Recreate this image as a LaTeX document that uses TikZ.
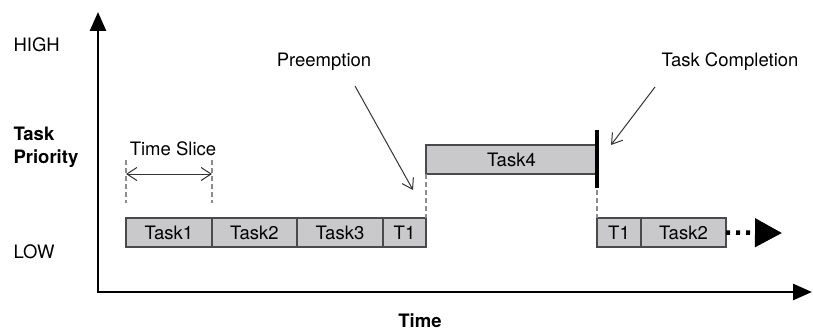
\documentclass[tikz,border=0pt]{standalone}
\usepackage{fontspec}
\setmainfont{TeX Gyre Heros}
\usetikzlibrary{arrows.meta, positioning}
\definecolor{taskgray}{HTML}{C9C9CC}
\definecolor{edgegray}{HTML}{4A4A4A}

\begin{document}
\begin{tikzpicture}[x=1pt, y=-1pt,
  font=\fontsize{18.5}{23}\selectfont,
  taskbox/.style={rectangle, draw=edgegray, line width=1.4pt, fill=taskgray, minimum height=29pt, inner sep=0pt, outer sep=0pt},
  axis/.style={line width=2.6pt, {Triangle[length=19pt, width=16pt]}-{Triangle[length=19pt, width=16pt]}},
  pointer/.style={line width=1pt, draw=black!80, -{Straight Barb[length=10pt, width=13pt]}},
  guide/.style={line width=1.2pt, draw=black!45, dash pattern=on 5pt off 3pt}]

\useasboundingbox (0,0) rectangle (813,334);

% axes
\coordinate (ytop) at (98,12);
\coordinate (origin) at (98,292);
\coordinate (xend) at (812,292);
\draw[axis] (ytop) -- (origin) -- (xend);

\node[anchor=west] (high) at (10,45) {HIGH};
\node[anchor=west, align=left, font=\fontsize{18.5}{23}\selectfont\bfseries] (prio) at (10,147) {Task\\Priority};
\node[anchor=west] (low) at (10,252) {LOW};
\node[font=\fontsize{18.5}{23}\selectfont\bfseries] (time) at (420,321) {Time};

% low priority row
\node[taskbox, minimum width=86pt, anchor=north west] (task1) at (126,218) {Task1};
\node[taskbox, minimum width=85pt, right=0pt of task1] (task2) {Task2};
\node[taskbox, minimum width=86pt, right=0pt of task2] (task3) {Task3};
\node[taskbox, minimum width=43pt, right=0pt of task3] (t1a) {T1};

% high priority task
\node[taskbox, minimum width=171pt, above right=44pt and 0pt of t1a] (task4) {Task4};

\node[taskbox, minimum width=44pt, below right=44pt and 0pt of task4] (t1b) {T1};
\node[taskbox, minimum width=85pt, right=0pt of t1b] (task2b) {Task2};

\draw[guide] (task4.south west) -- (t1a.north east);
\draw[guide] (task4.south east) -- (t1b.north west);
\coordinate (bartop) at (597,130);
\coordinate (barbot) at (597,188);
\draw[line width=4pt] (bartop) -- (barbot);

% time slice
\coordinate (sliceLtop) at (126,160);
\coordinate (sliceLbot) at (126,203);
\coordinate (sliceRtop) at (212,160);
\coordinate (sliceRbot) at (212,203);
\draw[guide] (sliceLtop) -- (sliceLbot);
\draw[guide] (sliceRtop) -- (sliceRbot);
\coordinate (sliceL) at (126,174);
\coordinate (sliceR) at (212,174);
\draw[pointer, {Straight Barb[length=10pt, width=13pt]}-{Straight Barb[length=10pt, width=13pt]}] (sliceL) -- (sliceR);
\node (slicelabel) at (173,149) {Time Slice};

% callouts
\node (preempt) at (324,62) {Preemption};
\coordinate (preemptfrom) at (355,86);
\coordinate (preempttip) at (413,190);
\draw[pointer] (preemptfrom) -- (preempttip);

\node (complete) at (730,62) {Task Completion};
\coordinate (completefrom) at (655,87);
\coordinate (completetip) at (611,145);
\draw[pointer] (completefrom) -- (completetip);

% continues
\coordinate (more) at (782,233);
\draw[line width=4.5pt, dash pattern=on 4pt off 6pt, -{Triangle[length=27pt, width=28pt]}] (task2b.east) -- (more);
\end{tikzpicture}
\end{document}
